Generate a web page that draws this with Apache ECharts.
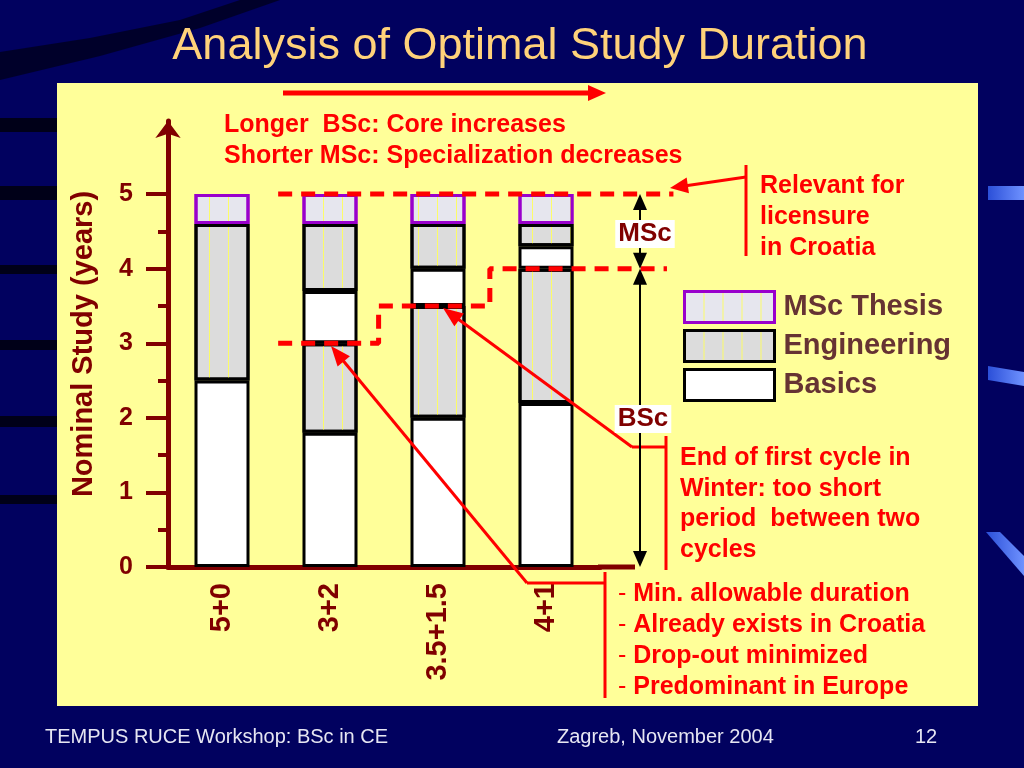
<!DOCTYPE html>
<html><head><meta charset="utf-8">
<script src="https://cdn.jsdelivr.net/npm/echarts@6/dist/echarts.min.js"></script>
<style>html,body{margin:0;padding:0;background:#01015f;}#c{width:1024px;height:768px;}</style>
</head><body><div id="c"></div>
<script>
// ---- data ----
const categories = ['5+0', '3+2', '3.5+1.5', '4+1'];
const basicsLower = [2.5, 1.8, 2.0, 2.2];
const engineeringLower = [2.1, 1.2, 1.5, 1.8];
const basicsUpper = [null, 0.7, 0.5, 0.3];
const engineeringUpper = [null, 0.9, 0.6, 0.3];
const mscThesis = [0.4, 0.4, 0.4, 0.4];
const yTicks = [0, 1, 2, 3, 4, 5];
const yMinorTicks = [0.5, 1.5, 2.5, 3.5, 4.5];
const legendNames = ['MSc Thesis', 'Engineering', 'Basics'];
// dashed reference lines (x in category units, y in years)
const licensureX = [0.52, 4.18];
const licensureY = [5, 5];
const bscStepX = [0.52, 1.45, 1.45, 2.48, 2.48, 4.12];
const bscStepY = [3, 3, 3.5, 3.5, 4, 4];

const FONT = '"Liberation Sans", Arial, sans-serif';
const DARKRED = '#800000';
const RED = '#ff0000';
const zip = (xs, ys) => xs.map((x, i) => [x, ys[i]]);

// layout
const GL = 168, GR = 600, GT = 121, GB = 567, YMAX = 5.98;
const bandPx = (GR - GL) / categories.length;
const G2R = 690; // overlay grid for reference lines, extends beyond the bars
const overlayMax = -0.5 + (G2R - GL) / bandPx;

const chart = echarts.init(document.getElementById('c'));
const engDecal = {symbol: 'rect', symbolSize: 1, dashArrayX: [1, 18], dashArrayY: [4, 0], color: 'rgba(255,255,90,0.9)'};
const barBase = {type: 'bar', stack: 'total', barWidth: 55, xAxisIndex: 0, yAxisIndex: 0, silent: true};
const basicsStyle = {color: '#ffffff', borderColor: '#000000', borderWidth: 3};
const engStyle = {color: '#dcdcdc', borderColor: '#000000', borderWidth: 3, decal: engDecal};
const lineBase = {type: 'line', xAxisIndex: 1, yAxisIndex: 2, symbol: 'none', clip: false, silent: true,
  lineStyle: {color: RED, width: 5, type: [14, 9]}, z: 3};

chart.setOption({
  backgroundColor: '#01015f',
  animation: false,
  grid: [
    {left: GL, width: GR - GL, top: GT, height: GB - GT},
    {left: GL, width: G2R - GL, top: GT, height: GB - GT}
  ],
  legend: {
    orient: 'vertical', left: 678, top: 285, itemWidth: 90, itemHeight: 31, itemGap: 5,
    icon: 'rect', selectedMode: false, data: legendNames,
    itemStyle: {borderWidth: 3},
    textStyle: {fontSize: 29, fontWeight: 'bold', color: '#663333', fontFamily: FONT, padding: [0, 0, 0, 4]}
  },
  xAxis: [
    {type: 'category', gridIndex: 0, data: categories,
     axisLine: {lineStyle: {color: DARKRED, width: 5}},
     axisTick: {show: false},
     axisLabel: {rotate: 90, margin: 16, fontSize: 29, fontWeight: 'bold', color: DARKRED, fontFamily: FONT}},
    {type: 'value', gridIndex: 1, min: -0.5, max: overlayMax, show: false}
  ],
  yAxis: [
    {type: 'value', gridIndex: 0, min: 0, max: YMAX,
     name: 'Nominal Study (years)', nameLocation: 'middle', nameGap: 70,
     nameTextStyle: {fontSize: 29, fontWeight: 'bold', color: DARKRED, fontFamily: FONT},
     axisLine: {show: true, onZero: false, lineStyle: {color: DARKRED, width: 5}, symbol: ['none', 'arrow'], symbolSize: [19, 17]},
     axisTick: {show: true, customValues: yTicks, length: 22, lineStyle: {color: DARKRED, width: 4}},
     axisLabel: {customValues: yTicks, margin: 35, fontSize: 25, fontWeight: 'bold', color: DARKRED, fontFamily: FONT},
     splitLine: {show: false}},
    {type: 'value', gridIndex: 0, min: 0, max: YMAX, position: 'left',
     axisLine: {show: false, onZero: false},
     axisTick: {show: true, customValues: yMinorTicks, length: 10, lineStyle: {color: DARKRED, width: 4}},
     axisLabel: {show: false}, splitLine: {show: false}},
    {type: 'value', gridIndex: 1, min: 0, max: YMAX, show: false}
  ],
  series: [
    {...barBase, name: 'Basics', data: basicsLower, itemStyle: basicsStyle},
    {...barBase, name: 'Engineering', data: engineeringLower, itemStyle: engStyle},
    {...barBase, name: 'Basics', data: basicsUpper, itemStyle: basicsStyle},
    {...barBase, name: 'Engineering', data: engineeringUpper, itemStyle: engStyle},
    {...barBase, name: 'MSc Thesis', data: mscThesis,
     itemStyle: {color: '#e6e6ee', borderColor: '#9900cc', borderWidth: 3, decal: engDecal}},
    {...lineBase, name: 'licensure', data: zip(licensureX, licensureY)},
    {...lineBase, name: 'bscMin', data: zip(bscStepX, bscStepY)}
  ]
});

// ---- annotations ----
const yPx = v => chart.convertToPixel({yAxisIndex: 0}, v);
function ln(x1, y1, x2, y2, color, w, z) {
  return {type: 'line', silent: true, z: z || 100, shape: {x1, y1, x2, y2}, style: {stroke: color, lineWidth: w}};
}
function head(tx, ty, fx, fy, len, half, color) {
  const dx = tx - fx, dy = ty - fy, L = Math.hypot(dx, dy), ux = dx / L, uy = dy / L;
  const bx = tx - ux * len, by = ty - uy * len;
  return {type: 'polygon', silent: true, z: 101,
    shape: {points: [[tx, ty], [bx - uy * half, by + ux * half], [bx + uy * half, by - ux * half]]},
    style: {fill: color}};
}
function arrow(x1, y1, x2, y2, color, w, len, half) {
  const dx = x2 - x1, dy = y2 - y1, L = Math.hypot(dx, dy);
  return [ln(x1, y1, x2 - dx / L * len * 0.7, y2 - dy / L * len * 0.7, color, w), head(x2, y2, x1, y1, len, half, color)];
}
function txt(x, y, str, font, color, align, extra) {
  return Object.assign({type: 'text', silent: true, z: 102, x, y,
    style: Object.assign({text: str, font, fill: color, align: align || 'left', textAlign: align || 'left',
      verticalAlign: 'middle', textVerticalAlign: 'middle'}, extra || {})});
}
const BOLD25 = 'bold 25px ' + FONT;
const els = [];
// slide decoration
els.push({type: 'polygon', silent: true, z: -20, shape: {points: [[0, 52], [90, 38], [180, 20], [240, 0], [280, 0], [200, 28], [100, 56], [0, 80]]}, style: {fill: '#00002a'}});
[[118, 14], [186, 14], [265, 9], [340, 10], [416, 11], [495, 9]].forEach(([y, h]) =>
  els.push({type: 'rect', silent: true, z: -20, shape: {x: 0, y, width: 57, height: h}, style: {fill: '#000018'}}));
const glow = () => new echarts.graphic.LinearGradient(0, 0, 1, 0, [{offset: 0, color: '#2b4fd8'}, {offset: 1, color: '#6f92ff'}]);
els.push({type: 'polygon', silent: true, z: -20, shape: {points: [[988, 186], [1024, 186], [1024, 200], [988, 200]]}, style: {fill: glow()}});
els.push({type: 'polygon', silent: true, z: -20, shape: {points: [[988, 366], [1024, 372], [1024, 386], [988, 380]]}, style: {fill: glow()}});
els.push({type: 'polygon', silent: true, z: -20, shape: {points: [[986, 532], [1000, 532], [1024, 556], [1024, 576]]}, style: {fill: glow()}});
// yellow panel
els.push({type: 'rect', silent: true, z: -10, shape: {x: 57, y: 83, width: 921, height: 623}, style: {fill: '#ffff99'}});
// title
els.push(txt(520, 47, 'Analysis of Optimal Study Duration', '45px ' + FONT, '#ffd27a', 'center'));
// top arrow + text
els.push(...arrow(283, 93, 606, 93, RED, 5, 18, 8));
els.push(txt(224, 125, 'Longer  BSc: Core increases', BOLD25, RED));
els.push(txt(224, 156, 'Shorter MSc: Specialization decreases', BOLD25, RED));
// licensure callout
els.push(ln(746, 165, 746, 256, RED, 3));
els.push(...arrow(746, 177, 670, 188, RED, 3, 18, 8));
els.push(txt(760, 186, 'Relevant for', BOLD25, RED));
els.push(txt(760, 217, 'licensure', BOLD25, RED));
els.push(txt(760, 248, 'in Croatia', BOLD25, RED));
// winter callout
els.push(ln(666, 436, 666, 570, RED, 3));
els.push(ln(632, 447, 666, 447, RED, 3));
els.push(...arrow(632, 447, 443, 308, RED, 3, 20, 8));
['End of first cycle in', 'Winter: too short', 'period  between two', 'cycles'].forEach((s, i) =>
  els.push(txt(680, 458 + i * 30.7, s, BOLD25, RED)));
// minimum duration callout
els.push(ln(605, 572, 605, 698, RED, 3));
els.push(ln(527, 583, 605, 583, RED, 3));
els.push(...arrow(527, 583, 331, 346, RED, 3, 20, 8));
['Min. allowable duration', 'Already exists in Croatia', 'Drop-out minimized', 'Predominant in Europe'].forEach((s, i) =>
  els.push(txt(618, 594 + i * 31, '{n|- }{b|' + s + '}', BOLD25, RED, 'left', {rich: {
    n: {font: '25px ' + FONT, fill: RED}, b: {font: BOLD25, fill: RED}}})));
// x-axis extension
els.push(ln(598, yPx(0), 635, yPx(0), DARKRED, 5, 5));
// MSc / BSc span arrows
const y5 = yPx(5), y4 = yPx(4), y0 = yPx(0), ax = 640;
els.push(ln(ax, y5 + 12, ax, y4 - 12, '#000', 2));
els.push(head(ax, y5, ax, y4, 16, 7, '#000'), head(ax, y4, ax, y5, 16, 7, '#000'));
els.push(ln(ax, y4 + 12, ax, y0 - 12, '#000', 2));
els.push(head(ax, y4, ax, y0, 16, 7, '#000'), head(ax, y0, ax, y4, 16, 7, '#000'));
els.push(txt(645, 234, 'MSc', 'bold 26px ' + FONT, DARKRED, 'center', {backgroundColor: '#ffffff', padding: [1, 3, 1, 3]}));
els.push(txt(643, 419, 'BSc', 'bold 26px ' + FONT, DARKRED, 'center', {backgroundColor: '#ffffff', padding: [1, 3, 1, 3]}));
// footer
els.push(txt(45, 737, 'TEMPUS RUCE Workshop: BSc in CE', '20px ' + FONT, '#e6e6f2'));
els.push(txt(557, 737, 'Zagreb, November 2004', '20px ' + FONT, '#e6e6f2'));
els.push(txt(915, 737, '12', '20px ' + FONT, '#e6e6f2'));

chart.setOption({graphic: {elements: els}});
</script>
</body></html>
